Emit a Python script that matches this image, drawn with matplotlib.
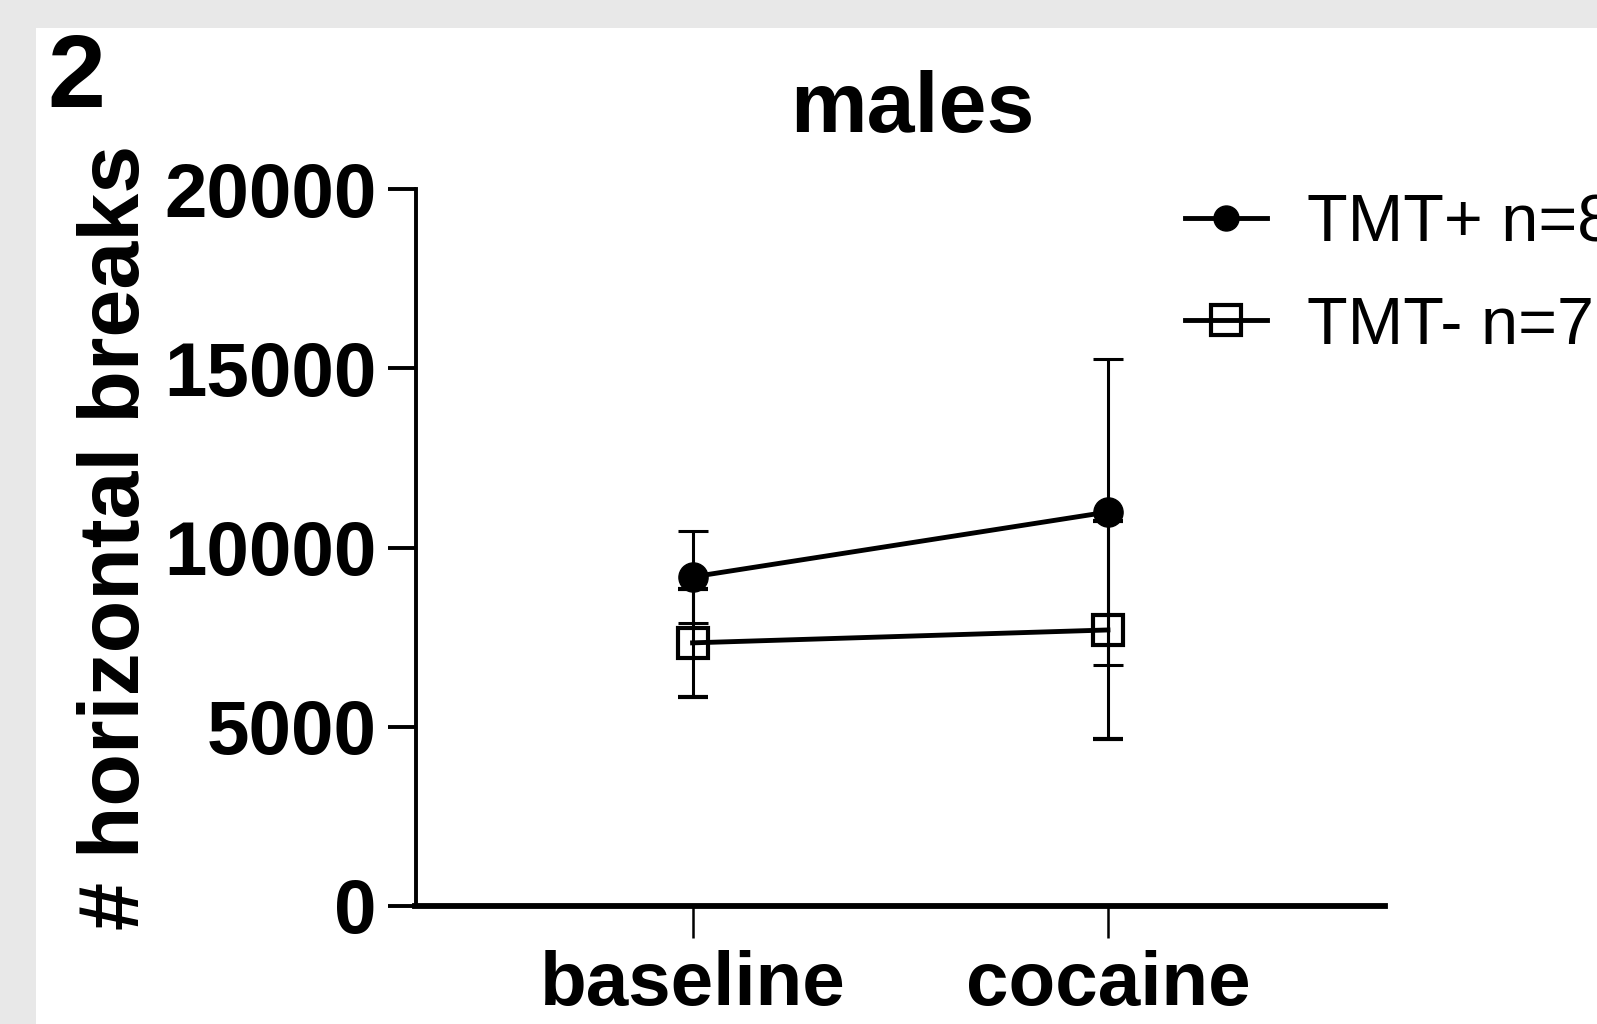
import matplotlib
matplotlib.use('Agg')
import matplotlib.pyplot as plt
from matplotlib.lines import Line2D
from matplotlib.patches import Rectangle

plt.rcParams['font.family'] = ['Liberation Sans', 'DejaVu Sans']

# values
conditions = ['baseline', 'cocaine']
tmt_pos_mean = [9180, 10990]
tmt_pos_sem = [1280, 4280]
tmt_neg_mean = [7340, 7700]
tmt_neg_sem = [1510, 3040]
labels = ['TMT+ n=8', 'TMT- n=7']
y_ticks = [0, 5000, 10000, 15000, 20000]

W, H = 1597, 1024
fig = plt.figure(figsize=(W / 100, H / 100), dpi=100, facecolor='#e8e8e8')
fig.add_artist(Rectangle((36 / W, 0), 1 - 36 / W, 1 - 28 / H, transform=fig.transFigure,
                         facecolor='white', edgecolor='none', zorder=-5))

left, right, bottom, top = 415.5 / W, 1385 / W, 1 - 906 / H, 1 - 189 / H
ax = fig.add_axes([left, bottom, right - left, top - bottom])
ax.set_facecolor('none')

x = list(range(len(conditions)))
ax.errorbar(x, tmt_neg_mean, yerr=tmt_neg_sem, color='black', lw=3.5, marker='s', ms=21,
            mfc='none', mec='black', mew=3, elinewidth=2.2, capsize=11, capthick=2.2, zorder=3)
ax.errorbar(x, tmt_pos_mean, yerr=tmt_pos_sem, color='black', lw=3.5, marker='o', ms=21,
            mfc='black', mec='black', elinewidth=2.2, capsize=11, capthick=2.2, zorder=4)

ax.set_xlim(-0.667, 1.667)
ax.set_ylim(0, 20000)
ax.set_xticks(x)
ax.set_xticklabels(conditions)
ax.set_yticks(y_ticks)
ax.set_yticklabels([str(v) for v in y_ticks])

for s in ['top', 'right']:
    ax.spines[s].set_visible(False)
ax.spines['left'].set_linewidth(2.8)
ax.spines['bottom'].set_linewidth(4.2)
ax.tick_params(axis='y', length=20, width=2.8, pad=8, labelsize=55)
ax.tick_params(axis='x', length=23, width=1.8, pad=9, labelsize=55)
for t in ax.get_xticklabels() + ax.get_yticklabels():
    t.set_fontweight('bold')

handles = [Line2D([], [], color='black', lw=3.5, marker='o', ms=18, mfc='black'),
           Line2D([], [], color='black', lw=3.5, marker='s', ms=21, mfc='none', mew=3)]
ax.legend(handles, labels, loc='upper left', bbox_to_anchor=(1185 / W, 1 - 193 / H),
          bbox_transform=fig.transFigure, frameon=False, fontsize=48, handlelength=1.23,
          handletextpad=0.6, labelspacing=0.61, borderpad=0, borderaxespad=0)

fig.text(0.571, 1 - 132 / H, 'males', ha='center', va='baseline', fontsize=62, fontweight='bold')
fig.text(0.0735, 1 - 537.5 / H, '# horizontal breaks', rotation=90, ha='center', va='center',
         fontsize=62, fontweight='bold')
fig.text(47 / W, 1 - 107 / H, '2', ha='left', va='baseline', fontsize=75, fontweight='bold')

fig.savefig('out.png', dpi=100, facecolor=fig.get_facecolor())
